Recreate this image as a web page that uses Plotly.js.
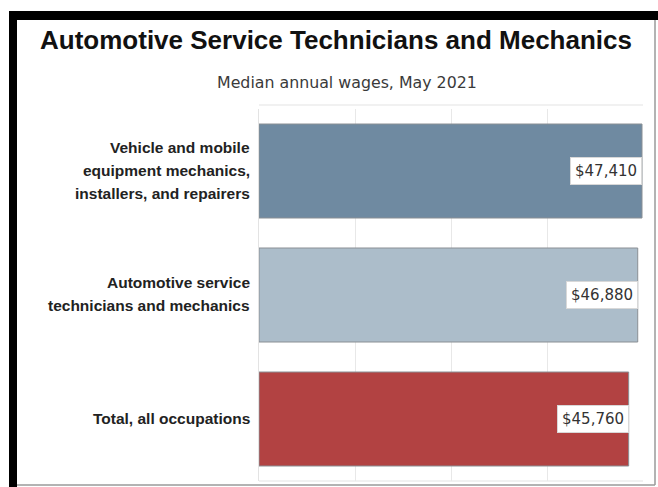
<!DOCTYPE html>
<html>
<head>
<meta charset="utf-8">
<script src="https://cdn.plot.ly/plotly-3.0.1.min.js"></script>
<style>html,body{margin:0;padding:0;background:#fff;}#chart{width:658px;height:487px;}</style>
</head>
<body>
<div id="chart"></div>
<script>
// Data
var categories = [
  "Vehicle and mobile|equipment mechanics,|installers, and repairers",
  "Automotive service|technicians and mechanics",
  "Total, all occupations"
];
var wages = [47410, 46880, 45760];
var barColors = ["#6F8AA1", "#ACBDCA", "#B24242"];
var valueLabels = ["$47,410", "$46,880", "$45,760"];

var W = 658, H = 487;
var mL = 259, mR = 15, mT = 109, mB = 6;
var pw = W - mL - mR, ph = H - mT - mB;
function px(x) { return (x - mL) / pw; }
function py(y) { return (H - mB - y) / ph; }

var trace = {
  type: "bar",
  orientation: "h",
  y: categories,
  x: wages,
  width: 0.758,
  marker: { color: barColors, line: { color: "#8a8f94", width: 1 } },
  hoverinfo: "none"
};

var annotations = [];
for (var i = 0; i < wages.length; i++) {
  annotations.push({
    x: wages[i], y: categories[i], xref: "x", yref: "y",
    xanchor: "right", yanchor: "middle", yshift: 0,
    text: valueLabels[i], showarrow: false,
    font: { family: "DejaVu Sans", size: 15, color: "#333333" },
    bgcolor: "#ffffff", borderpad: 4, borderwidth: 1, bordercolor: "#d8d8d8"
  });
  // category label lines
  var lines = categories[i].split("|");
  var n = lines.length;
  for (var j = 0; j < n; j++) {
    annotations.push({
      xref: "paper", yref: "y", x: px(252), y: categories[i],
      xanchor: "right", yanchor: "middle",
      yshift: ((n - 1) / 2 - j) * 23 + 1,
      text: lines[j], showarrow: false,
      font: { family: "Liberation Sans, Arial", size: 15.5, color: "#222222", weight: "bold" }
    });
  }
}
annotations.push({
  xref: "paper", yref: "paper", x: px(347), y: py(82),
  xanchor: "center", yanchor: "middle", showarrow: false,
  text: "Median annual wages, May 2021",
  font: { family: "DejaVu Sans", size: 15.8, color: "#3a3a3a" }
});

var shapes = [
  // black frame top and left
  { type: "rect", xref: "paper", yref: "paper", x0: px(9), x1: px(658), y0: py(20), y1: py(11), fillcolor: "#000", line: { width: 0 }, layer: "above" },
  { type: "rect", xref: "paper", yref: "paper", x0: px(9), x1: px(17), y0: py(487), y1: py(11), fillcolor: "#000", line: { width: 0 }, layer: "above" },
  // gray frame right and bottom
  { type: "line", xref: "paper", yref: "paper", x0: px(655), x1: px(655), y0: py(485), y1: py(20), line: { color: "#9a9a9a", width: 1.5 }, layer: "above" },
  { type: "line", xref: "paper", yref: "paper", x0: px(17), x1: px(655), y0: py(485), y1: py(485), line: { color: "#9a9a9a", width: 1.5 }, layer: "above" },
  // faint plot top line
  { type: "line", xref: "paper", yref: "paper", x0: 0, x1: 1, y0: py(105), y1: py(105), line: { color: "#e3e3e3", width: 1 }, layer: "below" }
];

var layout = {
  width: W, height: H,
  margin: { l: mL, r: mR, t: mT, b: mB, pad: 0 },
  paper_bgcolor: "#ffffff",
  plot_bgcolor: "#ffffff",
  showlegend: false,
  title: {
    text: "<b>Automotive Service Technicians and Mechanics</b>",
    xref: "container", yref: "container",
    x: 336 / W, y: 1 - 40 / H, xanchor: "center", yanchor: "middle",
    font: { family: "Liberation Sans, Arial", size: 26, color: "#111111" }
  },
  xaxis: {
    range: [0, 47534],
    dtick: 47534 / 4,
    tick0: 0,
    showticklabels: false,
    ticks: "",
    showgrid: true,
    gridcolor: "#e8e8e8",
    gridwidth: 1,
    zeroline: false,
    showline: false,
    fixedrange: true
  },
  yaxis: {
    autorange: "reversed",
    ticks: "",
    showticklabels: false,
    showgrid: false,
    showline: true,
    linecolor: "#e3e3e3",
    mirror: false,
    fixedrange: true
  },
  annotations: annotations,
  shapes: shapes
};
layout.shapes.push({ type: "line", xref: "paper", yref: "paper", x0: 0, x1: 1, y0: 0, y1: 0, line: { color: "#e3e3e3", width: 1 }, layer: "below" });

Plotly.newPlot("chart", [trace], layout, { displayModeBar: false, staticPlot: true });
</script>
</body>
</html>
